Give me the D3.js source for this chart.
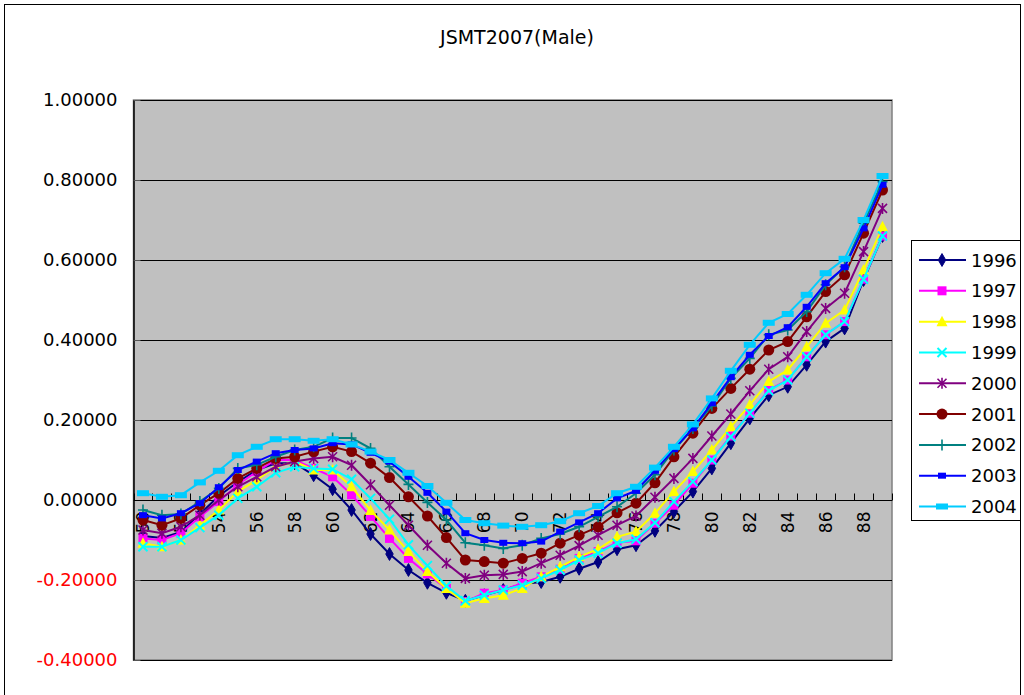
<!DOCTYPE html>
<html>
<head>
<meta charset="utf-8">
<script src="https://cdn.jsdelivr.net/npm/d3@7"></script>
<style>
  html, body { margin: 0; padding: 0; background: #fff; }
  svg { display: block; font-family: "DejaVu Sans", sans-serif; }
</style>
</head>
<body>
<svg id="chart" width="1024" height="695"></svg>
<script>
// Ages on the category axis
const ages = d3.range(50, 90);
// Labelled ticks on the value axis
const yTicks = [-0.4, -0.2, 0, 0.2, 0.4, 0.6, 0.8, 1.0];
const years = ["1996", "1997", "1998", "1999", "2000", "2001", "2002", "2003", "2004"];

const s1996 = [-0.090, -0.095, -0.080, -0.035, 0.010, 0.045, 0.075, 0.092, 0.092, 0.062,
               0.027, -0.025, -0.085, -0.135, -0.175, -0.207, -0.232, -0.252, -0.238, -0.225,
               -0.210, -0.205, -0.192, -0.172, -0.155, -0.123, -0.113, -0.077, -0.029, 0.021,
               0.079, 0.142, 0.204, 0.262, 0.283, 0.338, 0.396, 0.429, 0.550, 0.660];
const s1997 = [-0.096, -0.100, -0.083, -0.042, -0.004, 0.038, 0.071, 0.100, 0.100, 0.079,
               0.058, 0.013, -0.041, -0.096, -0.146, -0.185, -0.221, -0.254, -0.233, -0.225,
               -0.208, -0.192, -0.173, -0.146, -0.129, -0.107, -0.102, -0.058, -0.013, 0.042,
               0.100, 0.160, 0.217, 0.275, 0.300, 0.358, 0.413, 0.446, 0.552, 0.660];
const s1998 = [-0.108, -0.117, -0.100, -0.063, -0.025, 0.021, 0.050, 0.083, 0.096, 0.075,
               0.075, 0.033, -0.026, -0.075, -0.129, -0.179, -0.221, -0.258, -0.246, -0.238,
               -0.221, -0.192, -0.167, -0.142, -0.123, -0.092, -0.079, -0.033, 0.021, 0.071,
               0.125, 0.183, 0.238, 0.296, 0.325, 0.383, 0.442, 0.475, 0.575, 0.683];
const s1999 = [-0.117, -0.117, -0.100, -0.069, -0.038, 0.004, 0.033, 0.068, 0.083, 0.079,
               0.077, 0.052, 0.004, -0.048, -0.112, -0.164, -0.215, -0.252, -0.238, -0.225,
               -0.213, -0.196, -0.175, -0.150, -0.133, -0.108, -0.098, -0.057, -0.004, 0.046,
               0.100, 0.158, 0.217, 0.273, 0.300, 0.358, 0.413, 0.446, 0.552, 0.660];
const s2000 = [-0.075, -0.083, -0.067, -0.038, 0.000, 0.033, 0.058, 0.083, 0.096, 0.104,
               0.108, 0.087, 0.038, -0.013, -0.063, -0.113, -0.158, -0.196, -0.188, -0.186,
               -0.179, -0.158, -0.138, -0.114, -0.088, -0.063, -0.040, 0.007, 0.054, 0.104,
               0.160, 0.215, 0.273, 0.327, 0.358, 0.421, 0.479, 0.517, 0.621, 0.729];
const s2001 = [-0.050, -0.063, -0.046, -0.013, 0.017, 0.054, 0.079, 0.104, 0.108, 0.121,
               0.133, 0.121, 0.092, 0.056, 0.008, -0.040, -0.094, -0.150, -0.154, -0.158,
               -0.146, -0.133, -0.108, -0.088, -0.067, -0.032, -0.008, 0.043, 0.108, 0.167,
               0.229, 0.279, 0.327, 0.375, 0.396, 0.458, 0.521, 0.563, 0.667, 0.775];
const s2002 = [-0.025, -0.038, -0.035, -0.004, 0.029, 0.079, 0.088, 0.108, 0.125, 0.133,
               0.155, 0.155, 0.129, 0.083, 0.039, -0.006, -0.050, -0.107, -0.113, -0.121,
               -0.113, -0.096, -0.085, -0.067, -0.042, -0.017, 0.017, 0.063, 0.125, 0.179,
               0.235, 0.304, 0.354, 0.413, 0.425, 0.471, 0.538, 0.583, 0.692, 0.796];
const s2003 = [-0.038, -0.046, -0.033, -0.008, 0.032, 0.075, 0.096, 0.117, 0.125, 0.129,
               0.142, 0.139, 0.118, 0.096, 0.058, 0.018, -0.029, -0.083, -0.100, -0.107,
               -0.108, -0.104, -0.079, -0.056, -0.033, 0.004, 0.023, 0.073, 0.127, 0.179,
               0.242, 0.307, 0.363, 0.410, 0.432, 0.483, 0.542, 0.582, 0.679, 0.788];
const s2004 = [0.017, 0.008, 0.012, 0.044, 0.073, 0.112, 0.133, 0.152, 0.152, 0.148,
               0.152, 0.139, 0.121, 0.100, 0.068, 0.035, -0.007, -0.050, -0.058, -0.064,
               -0.067, -0.063, -0.053, -0.033, -0.015, 0.017, 0.033, 0.081, 0.133, 0.189,
               0.254, 0.323, 0.388, 0.443, 0.465, 0.513, 0.567, 0.603, 0.700, 0.810];

const seriesValues = [s1996, s1997, s1998, s1999, s2000, s2001, s2002, s2003, s2004];
const colors = ["#000080", "#FF00FF", "#FFFF00", "#00FFFF", "#800080",
                "#800000", "#008080", "#0000FF", "#00CCFF"];
const markerKinds = ["diamond", "square", "triangle", "cross", "star",
                     "circle", "plus", "dashShort", "dashLong"];

const series = years.map((name, i) => ({
  name, color: colors[i], marker: markerKinds[i],
  values: ages.map((a, j) => ({ age: a, v: seriesValues[i][j] }))
}));

const svg = d3.select("#chart");

// Outer chart frame
svg.append("rect")
  .attr("x", 4.5).attr("y", 4.5).attr("width", 1016).attr("height", 720)
  .attr("fill", "#fff").attr("stroke", "#000").attr("stroke-width", 1);

const plot = { left: 133.5, right: 892, top: 100, bottom: 660 };

const x = d3.scaleBand().domain(ages).range([plot.left, plot.right]).paddingInner(0).paddingOuter(0);
const cx = a => x(a) + x.bandwidth() / 2;
const y = d3.scaleLinear().domain([-0.4, 1.0]).range([plot.bottom, plot.top]);

// Title
svg.append("text")
  .attr("x", 517).attr("y", 44)
  .attr("text-anchor", "middle")
  .attr("font-size", 19)
  .attr("fill", "#000")
  .text("JSMT2007(Male)");

// Plot area
svg.append("rect")
  .attr("x", plot.left).attr("y", plot.top)
  .attr("width", plot.right - plot.left).attr("height", plot.bottom - plot.top)
  .attr("fill", "#C0C0C0").attr("stroke", "#808080").attr("stroke-width", 1.5);

// Horizontal gridlines
svg.append("g")
  .selectAll("line")
  .data(yTicks)
  .join("line")
  .attr("x1", plot.left).attr("x2", plot.right)
  .attr("y1", d => Math.round(y(d)) + 0.5).attr("y2", d => Math.round(y(d)) + 0.5)
  .attr("stroke", "#000").attr("stroke-width", 1);

// Value axis
const yAxis = svg.append("g")
  .attr("transform", `translate(${plot.left},0)`)
  .call(d3.axisLeft(y).tickValues(yTicks).tickFormat(d3.format(".5f"))
        .tickSizeInner(-7).tickSizeOuter(0).tickPadding(16));
yAxis.select(".domain").attr("stroke", "#000").attr("stroke-width", 1.5);
yAxis.selectAll(".tick line").attr("stroke", "#555");
yAxis.selectAll(".tick text")
  .attr("font-family", "DejaVu Sans, sans-serif")
  .attr("font-size", 18)
  .attr("fill", d => d < 0 ? "#FF0000" : "#000")
  .text(d => d3.format(".5f")(d).replace("−", "-"));

// Category axis crossing at zero
const y0 = Math.round(y(0)) + 0.5;
const xAxisG = svg.append("g");
xAxisG.append("line")
  .attr("x1", plot.left).attr("x2", plot.right)
  .attr("y1", y0).attr("y2", y0)
  .attr("stroke", "#000").attr("stroke-width", 1);
xAxisG.selectAll("line.tick")
  .data(ages.concat([90]))
  .join("line")
  .attr("class", "tick")
  .attr("x1", d => Math.round(d === 90 ? plot.right : x(d)) + 0.5)
  .attr("x2", d => Math.round(d === 90 ? plot.right : x(d)) + 0.5)
  .attr("y1", y0 - 7).attr("y2", y0)
  .attr("stroke", "#000").attr("stroke-width", 1);

// Series lines
const line = d3.line().x(d => cx(d.age)).y(d => y(d.v));

function drawMarker(g, kind, color) {
  switch (kind) {
    case "diamond":
      g.append("path").attr("d", d3.symbol(d3.symbolDiamond, 48)()).attr("fill", color).attr("stroke", color);
      break;
    case "square":
      g.append("rect").attr("x", -4.5).attr("y", -4.5).attr("width", 9).attr("height", 9).attr("fill", color);
      break;
    case "triangle":
      g.append("path").attr("d", "M0,-6 L5.5,4.5 L-5.5,4.5 Z").attr("fill", color);
      break;
    case "cross":
      g.append("path").attr("d", "M-4.5,-4.5 L4.5,4.5 M-4.5,4.5 L4.5,-4.5").attr("stroke", color).attr("stroke-width", 2).attr("fill", "none");
      break;
    case "star":
      g.append("path").attr("d", "M-4.5,-4.5 L4.5,4.5 M-4.5,4.5 L4.5,-4.5 M0,-5.5 L0,5.5").attr("stroke", color).attr("stroke-width", 1.6).attr("fill", "none");
      break;
    case "circle":
      g.append("circle").attr("r", 5.5).attr("fill", color);
      break;
    case "plus":
      g.append("path").attr("d", "M-5,0 L5,0 M0,-5.5 L0,5.5").attr("stroke", color).attr("stroke-width", 1.6).attr("fill", "none");
      break;
    case "dashShort":
      g.append("rect").attr("x", -4).attr("y", -3).attr("width", 8).attr("height", 6).attr("fill", color);
      break;
    case "dashLong":
      g.append("rect").attr("x", -6).attr("y", -3).attr("width", 12).attr("height", 6).attr("fill", color);
      break;
  }
}

const seriesG = svg.append("g");
series.forEach(s => {
  const g = seriesG.append("g");
  g.append("path")
    .datum(s.values)
    .attr("d", line)
    .attr("fill", "none")
    .attr("stroke", s.color)
    .attr("stroke-width", 2);
  g.selectAll("g.pt")
    .data(s.values)
    .join("g")
    .attr("class", "pt")
    .attr("transform", d => `translate(${cx(d.age)},${y(d.v)})`)
    .each(function () { drawMarker(d3.select(this), s.marker, s.color); });
});

// Category labels, rotated, every second age
xAxisG.selectAll("text")
  .data(ages.filter(a => a % 2 === 0))
  .join("text")
  .attr("transform", d => `translate(${cx(d)},${y0 + 11}) rotate(-90)`)
  .attr("text-anchor", "end")
  .attr("dominant-baseline", "central")
  .attr("font-size", 17)
  .attr("fill", "#000")
  .text(d => d);

// Legend
const legend = svg.append("g");
legend.append("rect")
  .attr("x", 911.5).attr("y", 240.5).attr("width", 109).attr("height", 280)
  .attr("fill", "#fff").attr("stroke", "#000").attr("stroke-width", 1);
const legendRow = d3.scaleLinear().domain([0, 8]).range([260, 506.5]);
series.forEach((s, i) => {
  const ly = legendRow(i);
  const row = legend.append("g").attr("transform", `translate(0,${ly})`);
  row.append("line").attr("x1", 919).attr("x2", 966).attr("y1", 0).attr("y2", 0)
    .attr("stroke", s.color).attr("stroke-width", 2);
  const m = row.append("g").attr("transform", "translate(942,0)");
  drawMarker(m, s.marker, s.color);
  row.append("text")
    .attr("x", 971).attr("y", 0)
    .attr("dominant-baseline", "central")
    .attr("font-size", 18)
    .attr("fill", "#000")
    .text(s.name);
});
</script>
</body>
</html>
